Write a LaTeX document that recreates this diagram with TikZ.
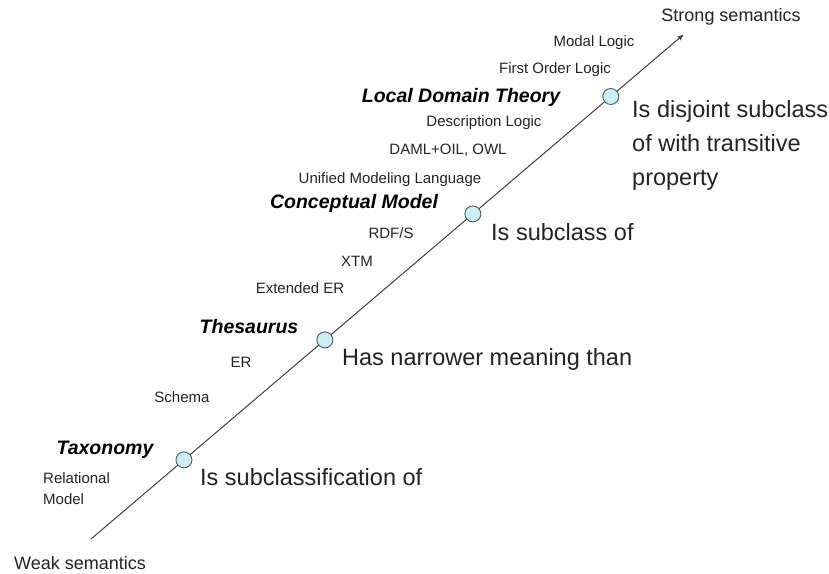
\documentclass[tikz,border=0pt]{standalone}
\usepackage{fontspec}
\setmainfont{Liberation Sans}
\usetikzlibrary{arrows}
\definecolor{knotfill}{RGB}{204,238,241}
\definecolor{knotline}{RGB}{70,92,100}
\definecolor{inkgray}{RGB}{35,35,35}
\begin{document}
\begin{tikzpicture}[x=1pt,y=-1pt,>=stealth',
    term/.style={font=\fontsize{15}{18}\selectfont, inner sep=0pt, text=inkgray},
    layer/.style={font=\fontsize{19.5}{23}\selectfont\bfseries\itshape, inner sep=0pt, text=black},
    relation/.style={font=\fontsize{23.5}{34}\selectfont, inner sep=0pt, anchor=west, text=inkgray, align=left},
    pole/.style={font=\fontsize{18}{22}\selectfont, inner sep=0pt, text=inkgray},
    knot/.style={circle, draw=knotline, fill=knotfill, line width=0.9pt, minimum size=16pt, inner sep=0pt}]
    \useasboundingbox (0,0) rectangle (829,573);

    \coordinate (W) at (91,539);
    \coordinate (S) at (683,35);
    \draw[->, line width=1pt, draw=black!75] (W) -- (S)
        node[knot, pos=0.157] (k1) {}
        node[knot, pos=0.395] (k2) {}
        node[knot, pos=0.645] (k3) {}
        node[knot, pos=0.878] (k4) {};

    \node[pole] (strong) at (731,17) {Strong semantics};
    \node[pole] (weak) at (80,563) {Weak semantics};

    \node[term] (modal) at (594,43) {Modal Logic};
    \node[term] (fol) at (555,70) {First Order Logic};
    \node[layer] (ldt) at (461,97) {Local Domain Theory};
    \node[term] (dl) at (484,123) {Description Logic};
    \node[term] (daml) at (448,150) {DAML+OIL, OWL};
    \node[term] (uml) at (390,180) {Unified Modeling Language};
    \node[layer] (cm) at (354,203) {Conceptual Model};
    \node[term] (rdfs) at (391,233) {RDF/S};
    \node[term] (xtm) at (357,261) {XTM};
    \node[term] (eer) at (300,288) {Extended ER};
    \node[layer] (thes) at (249,327) {Thesaurus};
    \node[term] (er) at (241,362) {ER};
    \node[term] (schema) at (182,397) {Schema};
    \node[layer] (tax) at (105,450) {Taxonomy};
    \node[term, font=\fontsize{15}{21}\selectfont, anchor=north west, align=left] (relm) at (43,472) {Relational\\Model};

    \node[relation] (r4) at (632,145) {Is disjoint subclass\\of with transitive\\property};
    \node[relation] (r3) at (491,232) {Is subclass of};
    \node[relation] (r2) at (342,359) {Has narrower meaning than};
    \node[relation] (r1) at (200,477) {Is subclassification of};
\end{tikzpicture}
\end{document}
